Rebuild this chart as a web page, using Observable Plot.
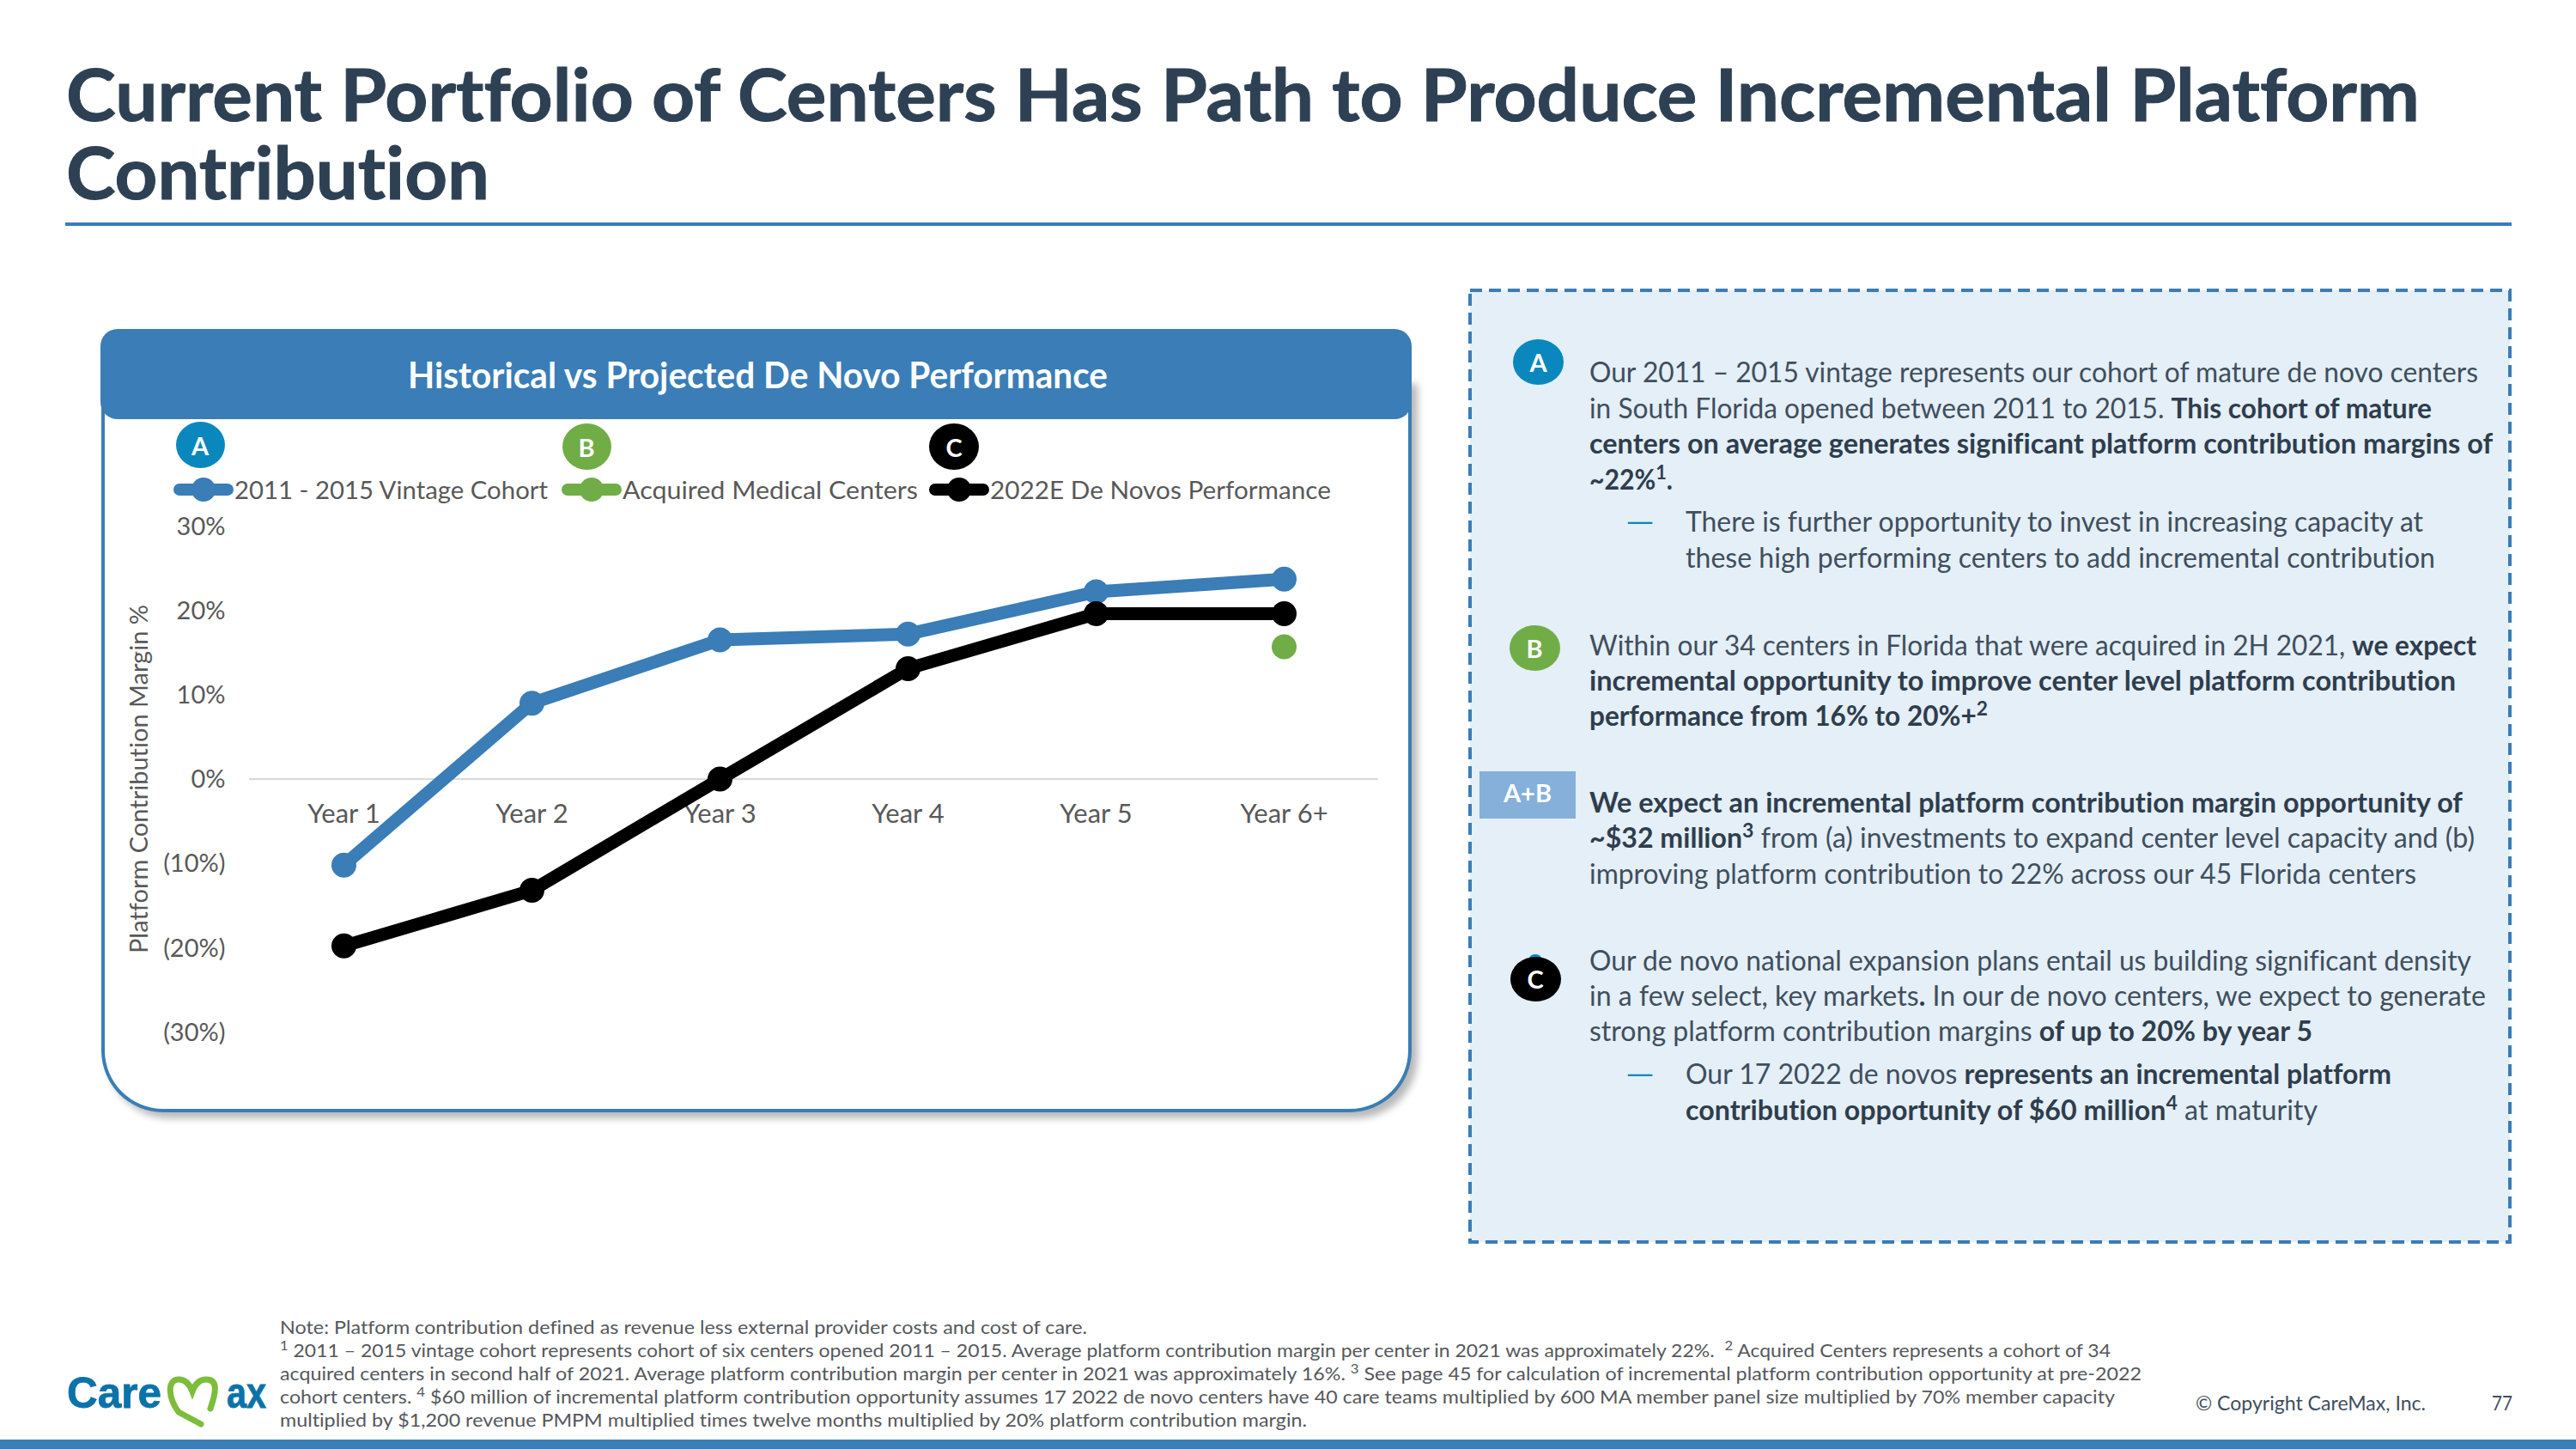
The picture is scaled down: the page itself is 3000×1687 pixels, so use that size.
<!DOCTYPE html>
<html><head><meta charset="utf-8">
<script src="https://cdn.jsdelivr.net/npm/d3@7"></script>
<script src="https://cdn.jsdelivr.net/npm/@observablehq/plot@0.6"></script>
<style>
html,body{margin:0;padding:0;background:#fff}
#page{position:relative;width:3000px;height:1687px;overflow:hidden;font-family:Lato,sans-serif;color:#3d4b5a;font-variant-ligatures:none}
#page .a{position:absolute}
.ln{position:absolute;white-space:nowrap;transform-origin:0 50%;line-height:1}
sup{font-size:72%;line-height:0;vertical-align:baseline;position:relative;top:-.5em}
.badge{position:absolute;border-radius:50%;color:#fff;font-weight:700;display:flex;align-items:center;justify-content:center;font-size:29px}
b{font-weight:700;color:#2f3d4d}
svg{overflow:visible}
</style></head><body>
<div id="page"></div>
<script>
// ---- chart data ----
const years = ["Year 1","Year 2","Year 3","Year 4","Year 5","Year 6+"];
const vintage = [-10.2, 9.0, 16.5, 17.2, 22.2, 23.7];
const acquired = [null, null, null, null, null, 15.7];
const novo = [-19.8, -13.2, 0, 13.1, 19.6, 19.6];
const seriesNames = ["2011 - 2015 Vintage Cohort","Acquired Medical Centers","2022E De Novos Performance"];
const seriesColors = ["#3a7db7","#70ad47","#000000"];
const yTicks = [-30,-20,-10,0,10,20,30];

// ---- text ----
const titleLines = ["Current Portfolio of Centers Has Path to Produce Incremental Platform","Contribution"];
const panelTitle = "Historical vs Projected De Novo Performance";
const bodyLines = [
 [1851,433,2886,"Our 2011 – 2015 vintage represents our cohort of mature de novo centers"],
 [1851,475,2832,"in South Florida opened between 2011 to 2015. <b>This cohort of mature</b>"],
 [1851,516,2903,"<b>centers on average generates significant platform contribution margins of</b>"],
 [1851,558,1948,"<b>~22%<sup>1</sup>.</b>"],
 [1963,607,2822,"There is further opportunity to invest in increasing capacity at"],
 [1963,649,2836,"these high performing centers to add incremental contribution"],
 [1851,751,2884,"Within our 34 centers in Florida that were acquired in 2H 2021, <b>we expect</b>"],
 [1851,792,2860,"<b>incremental opportunity to improve center level platform contribution</b>"],
 [1851,833,2315,"<b>performance from 16% to 20%+<sup>2</sup></b>"],
 [1851,934,2868,"<b>We expect an incremental platform contribution margin opportunity of</b>"],
 [1851,975,2882,"<b>~$32 million<sup>3</sup></b> from (a) investments to expand center level capacity and (b)"],
 [1851,1017,2814,"improving platform contribution to 22% across our 45 Florida centers"],
 [1851,1118,2878,"Our de novo national expansion plans entail us building significant density"],
 [1851,1159,2895,"in a few select, key markets<b>.</b> In our de novo centers, we expect to generate"],
 [1851,1200,2693,"strong platform contribution margins <b>of up to 20% by year 5</b>"],
 [1963,1250,2785,"Our 17 2022 de novos <b>represents an incremental platform</b>"],
 [1963,1292,2699,"<b>contribution opportunity of $60 million<sup>4</sup></b> at maturity"]
];
const noteLines = [
 [326,1545,1266,"Note: Platform contribution defined as revenue less external provider costs and cost of care."],
 [326,1572,2458,"<sup>1</sup> 2011 – 2015 vintage cohort represents cohort of six centers opened 2011 – 2015. Average platform contribution margin per center in 2021 was approximately 22%.&nbsp; <sup>2</sup> Acquired Centers represents a cohort of 34"],
 [326,1599,2494,"acquired centers in second half of 2021. Average platform contribution margin per center in 2021 was approximately 16%. <sup>3</sup> See page 45 for calculation of incremental platform contribution opportunity at pre-2022"],
 [326,1626,2463,"cohort centers. <sup>4</sup> $60 million of incremental platform contribution opportunity assumes 17 2022 de novo centers have 40 care teams multiplied by 600 MA member panel size multiplied by 70% member capacity"],
 [326,1653,1522,"multiplied by $1,200 revenue PMPM multiplied times twelve months multiplied by 20% platform contribution margin."]
];

const page = document.getElementById("page");
const lines = [];
function line(x,y,right,html,size,color,weight,family){
  const d=document.createElement("div");d.className="ln";d.innerHTML=html;
  d.style.cssText=`left:${x}px;top:${y-size/2}px;font-size:${size}px;color:${color};font-weight:${weight||400}`+(family?`;font-family:${family}`:"");
  page.appendChild(d);lines.push([d,right-x]);return d;
}
function box(css,html){const d=document.createElement("div");d.className="a";d.style.cssText=css;if(html)d.innerHTML=html;page.appendChild(d);return d;}
function badge(cx,cy,w,h,bg,t){const d=document.createElement("div");d.className="badge";d.textContent=t;
  d.style.cssText=`left:${cx-w/2}px;top:${cy-h/2}px;width:${w}px;height:${h}px;background:${bg}`;page.appendChild(d);}

// title + rule
[[108,2818],[199,570]].forEach(([y,r],i)=>{line(77,y,r,titleLines[i],85,"#2e4053",700).style.webkitTextStroke="1px #2e4053";});
box("left:76px;top:259px;width:2849px;height:4px;background:#3a7db7");

// left panel
box("left:118px;top:440px;width:1518px;height:851px;border:4px solid #3a7db7;border-top:none;border-radius:0 0 72px 72px;background:#fff;box-shadow:7px 7px 9px rgba(0,0,0,.28)");
box("left:117px;top:383px;width:1527px;height:105px;background:#3a7db7;border-radius:20px");
line(475,436,1290,panelTitle,42,"#fff",700);

// chart
const long = [];
[vintage,acquired,novo].forEach((vals,i)=>vals.forEach((v,j)=>long.push({year:years[j],value:v,series:seriesNames[i]})));
const fmt = v => v<0 ? `(${-v}%)` : `${v}%`;
const chart = Plot.plot({
  width:1500,height:650,
  marginLeft:172,marginRight:13,marginTop:22,marginBottom:39,
  style:{fontFamily:"Lato,sans-serif",background:"transparent",color:"#595959",overflow:"visible"},
  x:{type:"point",domain:years,padding:0.5,axis:null},
  y:{domain:[-30,30],axis:null},
  color:{domain:seriesNames,range:seriesColors},
  marks:[
    Plot.axisY({ticks:yTicks,tickFormat:fmt,tickSize:0,tickPadding:28,fontSize:29,color:"#595959",dy:1,
      label:"Platform Contribution Margin %",labelAnchor:"center",labelArrow:"none",labelOffset:139}),
    Plot.ruleY([0],{stroke:"#d9d9d9",strokeWidth:2}),
    Plot.text(years,{x:d=>d,y:()=>0,dy:41,fontSize:31,fill:"#595959"}),
    Plot.line(long,{x:"year",y:"value",stroke:"series",z:"series",strokeWidth:15,strokeLinejoin:"round"}),
    Plot.dot(long,{x:"year",y:"value",fill:"series",r:14.5})
  ]
});
chart.style.cssText+=";position:absolute;left:118px;top:590px;";
page.appendChild(chart);

// legend
const keyX=[202,654,1082], keyEnd=[638,1069,1550];
seriesNames.forEach((s,i)=>{
  box(`left:${keyX[i]}px;top:563px;width:70px;height:14px;border-radius:7px;background:${seriesColors[i]}`);
  box(`left:${keyX[i]+21}px;top:556px;width:28px;height:28px;border-radius:50%;background:${seriesColors[i]}`);
  line(keyX[i]+71,569,keyEnd[i],s,29,"#595959");
});
badge(233,518,57,54,"#0a88bd","A");
badge(683,520,57,54,"#70ad47","B");
badge(1111,520,58,54,"#000","C");

// right panel
const dash=document.createElementNS("http://www.w3.org/2000/svg","svg");
dash.setAttribute("width","1216");dash.setAttribute("height","1114");
dash.style.cssText="position:absolute;left:1710px;top:336px";
dash.innerHTML='<rect x="2" y="2" width="1211" height="1108" fill="#e4eff7" stroke="#3a7db7" stroke-width="4" stroke-dasharray="14 8"/>';
page.appendChild(dash);
badge(1791.5,421.5,59,53,"#0a88bd","A");
badge(1787,754,59,53,"#70ad47","B");
badge(1788,1116,14,10,"#0a88bd","");
badge(1788,1139.5,59,52,"#000","C");
box("left:1723px;top:898px;width:112px;height:55px;background:#84b0d9;color:#fff;font-weight:700;font-size:29px;display:flex;align-items:center;justify-content:center;padding-bottom:6px;box-sizing:border-box","A+B");
bodyLines.forEach(l=>line(l[0],l[1],l[2],l[3],32,"#404e5d"));
[607,1250].forEach(y=>line(1893,y,1927,"—",32,"#0a88bd"));

// footer
noteLines.forEach(l=>line(l[0],l[1],l[2],l[3],22,"#55585c"));
line(2557,1633,2825,"© Copyright CareMax, Inc.",23,"#404e5d");
line(2902,1633,2926,"77",23,"#404e5d");
box("left:0;top:1676px;width:3000px;height:11px;background:#3a7db7");

// logo
line(78,1622,188,"Care",50,"#0b72aa",700,"'Liberation Sans'").style.webkitTextStroke="0.8px #0b72aa";
line(264,1622,310,"ax",50,"#0b72aa",700,"'Liberation Sans'").style.webkitTextStroke="0.8px #0b72aa";
const heart=document.createElementNS("http://www.w3.org/2000/svg","svg");
heart.setAttribute("width","70");heart.setAttribute("height","70");
heart.style.cssText="position:absolute;left:192px;top:1600px";
heart.innerHTML='<path d="M53 40 C60 20 62 6 48 6 C40 6 35 12 32 20 C29 12 24 6 16 6 C2 6 4 28 16 44 L42 58" fill="none" stroke="#7dbd3c" stroke-width="7" stroke-linecap="round"/>';
page.appendChild(heart);

// fit rendered text to widths
function fit(){lines.forEach(([d,w])=>{d.style.transform="none";const r=d.getBoundingClientRect().width;d.style.transform=`scaleX(${w/r})`;});}
fit();
document.fonts.ready.then(fit);
</script>
</body></html>
